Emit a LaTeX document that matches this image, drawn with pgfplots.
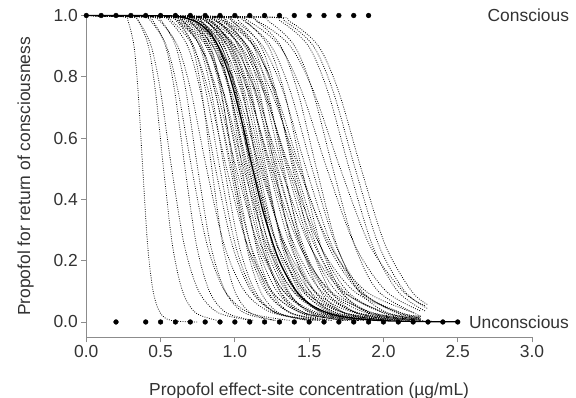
\documentclass[border=0pt]{standalone}
\usepackage{fontspec}
\setmainfont{Liberation Sans}
\usepackage{pgfplots}
\pgfplotsset{compat=1.18}
\definecolor{txt}{HTML}{333333}
\definecolor{axc}{HTML}{8C8C8C}
\pgfplotsset{ind/.style={black, line width=0.8pt, dash pattern=on 0.8pt off 1.5pt, smooth, tension=0.5, no marks}}
\begin{document}
\begin{tikzpicture}
\useasboundingbox (-86.3bp,-60.7bp) rectangle (489.7bp,337.3bp);
\begin{axis}[
  scale only axis, width=445.7bp, height=321.8bp,
  xmin=0, xmax=3, ymin=-0.05, ymax=1,
  axis x line*=bottom, axis y line*=left,
  axis line style={axc, line width=0.8pt},
  xtick={0,0.5,1,1.5,2,2.5,3}, ytick={0,0.2,0.4,0.6,0.8,1},
  tick align=outside, major tick length=5bp,
  tick style={axc, line width=0.8pt},
  /pgf/number format/assume math mode=true,
  /pgf/number format/.cd, fixed, fixed zerofill, precision=1, /pgfplots/.cd,
  tick label style={font=\fontsize{17.5}{20}\selectfont, text=txt},
  xlabel={Propofol effect-site concentration (µg/mL)},
  ylabel={Propofol for return of consciousness},
  label style={font=\fontsize{17.5}{20}\selectfont, text=txt},
  xlabel style={at={(axis description cs:0.5,-0.1793)}, anchor=base},
  ylabel style={at={(axis description cs:-0.1364,0.5)}, anchor=center},
  clip=false,
]
% individual curves
\addplot[ind] coordinates {(0,1)(0.253,0.995)(0.282,0.98)(0.321,0.9)(0.349,0.75)(0.380,0.5)(0.413,0.25)(0.450,0.1)(0.497,0.03)(0.571,0.005)(0.75,0)};
\addplot[ind] coordinates {(0,1)(0.306,0.995)(0.353,0.98)(0.418,0.9)(0.466,0.75)(0.520,0.5)(0.580,0.25)(0.648,0.1)(0.736,0.03)(0.883,0.005)};
\addplot[ind] coordinates {(0,1)(0.297,0.995)(0.354,0.98)(0.437,0.9)(0.501,0.75)(0.575,0.5)(0.660,0.25)(0.757,0.1)(0.888,0.03)(1.114,0.005)};
\addplot[ind] coordinates {(0,1)(0.392,0.995)(0.451,0.98)(0.534,0.9)(0.596,0.75)(0.665,0.5)(0.742,0.25)(0.829,0.1)(0.942,0.03)(1.129,0.005)};
\addplot[ind] coordinates {(0,1)(0.366,0.995)(0.437,0.98)(0.540,0.9)(0.619,0.75)(0.710,0.5)(0.814,0.25)(0.934,0.1)(1.096,0.03)(1.376,0.005)};
\addplot[ind] coordinates {(0,1)(0.442,0.995)(0.509,0.98)(0.602,0.9)(0.672,0.75)(0.750,0.5)(0.837,0.25)(0.935,0.1)(1.062,0.03)(1.274,0.005)};
\addplot[ind] coordinates {(0,1)(0.418,0.995)(0.498,0.98)(0.616,0.9)(0.706,0.75)(0.810,0.5)(0.929,0.25)(1.066,0.1)(1.251,0.03)(1.570,0.005)};
\addplot[ind] coordinates {(0,1)(0.563,0.995)(0.626,0.98)(0.714,0.9)(0.777,0.75)(0.845,0.5)(0.919,0.25)(1.000,0.1)(1.104,0.03)(1.270,0.005)};
\addplot[ind] coordinates {(0,1)(0.483,0.995)(0.565,0.98)(0.682,0.9)(0.770,0.75)(0.870,0.5)(0.983,0.25)(1.111,0.1)(1.280,0.03)(1.566,0.005)};
\addplot[ind] coordinates {(0,1)(0.530,0.995)(0.610,0.98)(0.723,0.9)(0.806,0.75)(0.900,0.5)(1.004,0.25)(1.121,0.1)(1.274,0.03)(1.528,0.005)};
\addplot[ind] coordinates {(0,1)(0.575,0.995)(0.653,0.98)(0.762,0.9)(0.842,0.75)(0.930,0.5)(1.028,0.25)(1.136,0.1)(1.276,0.03)(1.505,0.005)};
\addplot[ind] coordinates {(0,1)(0.488,0.995)(0.581,0.98)(0.718,0.9)(0.824,0.75)(0.945,0.5)(1.084,0.25)(1.244,0.1)(1.459,0.03)(1.831,0.005)};
\addplot[ind] coordinates {(0,1)(0.571,0.995)(0.658,0.98)(0.779,0.9)(0.869,0.75)(0.970,0.5)(1.083,0.25)(1.209,0.1)(1.374,0.03)(1.647,0.005)};
\addplot[ind] coordinates {(0,1)(0.544,0.995)(0.636,0.98)(0.768,0.9)(0.867,0.75)(0.980,0.5)(1.107,0.25)(1.251,0.1)(1.442,0.03)(1.764,0.005)};
\addplot[ind] coordinates {(0,1)(0.659,0.995)(0.734,0.98)(0.837,0.9)(0.910,0.75)(0.990,0.5)(1.077,0.25)(1.172,0.1)(1.294,0.03)(1.488,0.005)};
\addplot[ind] coordinates {(0,1)(0.618,0.995)(0.702,0.98)(0.819,0.9)(0.905,0.75)(1.000,0.5)(1.105,0.25)(1.221,0.1)(1.372,0.03)(1.618,0.005)};
\addplot[ind] coordinates {(0,1)(0.521,0.995)(0.621,0.98)(0.768,0.9)(0.881,0.75)(1.010,0.5)(1.159,0.25)(1.329,0.1)(1.560,0.03)(1.957,0.005)};
\addplot[ind] coordinates {(0,1)(0.607,0.995)(0.698,0.98)(0.827,0.9)(0.923,0.75)(1.030,0.5)(1.149,0.25)(1.283,0.1)(1.458,0.03)(1.749,0.005)};
\addplot[ind] coordinates {(0,1)(0.578,0.995)(0.675,0.98)(0.815,0.9)(0.921,0.75)(1.040,0.5)(1.175,0.25)(1.328,0.1)(1.530,0.03)(1.873,0.005)};
\addplot[ind] coordinates {(0,1)(0.699,0.995)(0.778,0.98)(0.887,0.9)(0.965,0.75)(1.050,0.5)(1.142,0.25)(1.243,0.1)(1.372,0.03)(1.578,0.005)};
\addplot[ind] coordinates {(0,1)(0.547,0.995)(0.652,0.98)(0.806,0.9)(0.924,0.75)(1.060,0.5)(1.216,0.25)(1.395,0.1)(1.637,0.03)(2.054,0.005)};
\addplot[ind] coordinates {(0,1)(0.661,0.995)(0.751,0.98)(0.876,0.9)(0.968,0.75)(1.070,0.5)(1.182,0.25)(1.306,0.1)(1.468,0.03)(1.731,0.005)};
\addplot[ind] coordinates {(0,1)(0.636,0.995)(0.732,0.98)(0.867,0.9)(0.968,0.75)(1.080,0.5)(1.205,0.25)(1.346,0.1)(1.529,0.03)(1.834,0.005)};
\addplot[ind] coordinates {(0,1)(0.605,0.995)(0.707,0.98)(0.854,0.9)(0.965,0.75)(1.090,0.5)(1.232,0.25)(1.391,0.1)(1.604,0.03)(1.963,0.005)};
\addplot[ind] coordinates {(0,1)(0.733,0.995)(0.815,0.98)(0.930,0.9)(1.011,0.75)(1.100,0.5)(1.197,0.25)(1.302,0.1)(1.438,0.03)(1.653,0.005)};
\addplot[ind] coordinates {(0,1)(0.686,0.995)(0.779,0.98)(0.909,0.9)(1.004,0.75)(1.110,0.5)(1.227,0.25)(1.355,0.1)(1.523,0.03)(1.796,0.005)};
\addplot[ind] coordinates {(0,1)(0.578,0.995)(0.689,0.98)(0.851,0.9)(0.977,0.75)(1.120,0.5)(1.285,0.25)(1.474,0.1)(1.729,0.03)(2.171,0.005)};
\addplot[ind] coordinates {(0,1)(0.666,0.995)(0.766,0.98)(0.907,0.9)(1.012,0.75)(1.130,0.5)(1.261,0.25)(1.408,0.1)(1.600,0.03)(1.919,0.005)};
\addplot[ind] coordinates {(0,1)(0.633,0.995)(0.740,0.98)(0.893,0.9)(1.009,0.75)(1.140,0.5)(1.288,0.25)(1.455,0.1)(1.677,0.03)(2.053,0.005)};
\addplot[ind] coordinates {(0,1)(0.766,0.995)(0.852,0.98)(0.972,0.9)(1.057,0.75)(1.150,0.5)(1.251,0.25)(1.362,0.1)(1.503,0.03)(1.728,0.005)};
\addplot[ind] coordinates {(0,1)(0.717,0.995)(0.814,0.98)(0.950,0.9)(1.050,0.75)(1.160,0.5)(1.282,0.25)(1.416,0.1)(1.591,0.03)(1.877,0.005)};
\addplot[ind] coordinates {(0,1)(0.604,0.995)(0.720,0.98)(0.889,0.9)(1.020,0.75)(1.170,0.5)(1.342,0.25)(1.540,0.1)(1.806,0.03)(2.267,0.005)};
\addplot[ind] coordinates {(0,1)(0.655,0.995)(0.766,0.98)(0.924,0.9)(1.044,0.75)(1.180,0.5)(1.333,0.25)(1.506,0.1)(1.736,0.03)(2.125,0.005)};
\addplot[ind] coordinates {(0,1)(0.701,0.995)(0.807,0.98)(0.956,0.9)(1.066,0.75)(1.190,0.5)(1.328,0.25)(1.483,0.1)(1.685,0.03)(2.021,0.005)};
\addplot[ind] coordinates {(0,1)(0.742,0.995)(0.842,0.98)(0.983,0.9)(1.086,0.75)(1.200,0.5)(1.326,0.25)(1.465,0.1)(1.646,0.03)(1.942,0.005)};
\addplot[ind] coordinates {(0,1)(0.806,0.995)(0.897,0.98)(1.022,0.9)(1.112,0.75)(1.210,0.5)(1.316,0.25)(1.433,0.1)(1.581,0.03)(1.819,0.005)};
\addplot[ind] coordinates {(0,1)(0.724,0.995)(0.834,0.98)(0.988,0.9)(1.102,0.75)(1.230,0.5)(1.373,0.25)(1.533,0.1)(1.742,0.03)(2.089,0.005)};
\addplot[ind] coordinates {(0,1)(0.689,0.995)(0.805,0.98)(0.971,0.9)(1.098,0.75)(1.240,0.5)(1.401,0.25)(1.583,0.1)(1.825,0.03)(2.233,0.005)};
\addplot[ind] coordinates {(0,1)(0.645,0.995)(0.769,0.98)(0.950,0.9)(1.090,0.75)(1.250,0.5)(1.434,0.25)(1.645,0.1)(1.930,0.03)(2.250,0.009)};
\addplot[ind] coordinates {(0,1)(0.779,0.995)(0.885,0.98)(1.032,0.9)(1.140,0.75)(1.260,0.5)(1.392,0.25)(1.538,0.1)(1.728,0.03)(2.039,0.005)};
\addplot[ind] coordinates {(0,1)(0.846,0.995)(0.941,0.98)(1.073,0.9)(1.167,0.75)(1.270,0.5)(1.382,0.25)(1.504,0.1)(1.660,0.03)(1.909,0.005)};
\addplot[ind] coordinates {(0,1)(0.711,0.995)(0.831,0.98)(1.003,0.9)(1.133,0.75)(1.280,0.5)(1.446,0.25)(1.634,0.1)(1.883,0.03)(2.250,0.006)};
\addplot[ind] coordinates {(0,1)(0.760,0.995)(0.875,0.98)(1.036,0.9)(1.156,0.75)(1.290,0.5)(1.440,0.25)(1.607,0.1)(1.827,0.03)(2.190,0.005)};
\addplot[ind] coordinates {(0,1)(0.676,0.995)(0.806,0.98)(0.996,0.9)(1.142,0.75)(1.310,0.5)(1.503,0.25)(1.724,0.1)(2.023,0.03)(2.250,0.013)};
\addplot[ind] coordinates {(0,1)(0.816,0.995)(0.927,0.98)(1.081,0.9)(1.194,0.75)(1.320,0.5)(1.459,0.25)(1.612,0.1)(1.811,0.03)(2.136,0.005)};
\addplot[ind] coordinates {(0,1)(0.886,0.995)(0.986,0.98)(1.124,0.9)(1.222,0.75)(1.330,0.5)(1.447,0.25)(1.575,0.1)(1.738,0.03)(1.999,0.005)};
\addplot[ind] coordinates {(0,1)(0.795,0.995)(0.915,0.98)(1.084,0.9)(1.210,0.75)(1.350,0.5)(1.507,0.25)(1.682,0.1)(1.912,0.03)(2.250,0.006)};
\addplot[ind] coordinates {(0,1)(0.755,0.995)(0.883,0.98)(1.065,0.9)(1.204,0.75)(1.360,0.5)(1.537,0.25)(1.736,0.1)(2.001,0.03)(2.250,0.011)};
\addplot[ind] coordinates {(0,1)(0.707,0.995)(0.843,0.98)(1.041,0.9)(1.195,0.75)(1.370,0.5)(1.572,0.25)(1.803,0.1)(2.115,0.03)(2.250,0.019)};
\addplot[ind] coordinates {(0,1)(0.926,0.995)(1.030,0.98)(1.175,0.9)(1.277,0.75)(1.390,0.5)(1.512,0.25)(1.646,0.1)(1.817,0.03)(2.089,0.005)};
\addplot[ind] coordinates {(0,1)(0.865,0.995)(0.983,0.98)(1.147,0.9)(1.267,0.75)(1.400,0.5)(1.547,0.25)(1.709,0.1)(1.920,0.03)(2.250,0.005)};
\addplot[ind] coordinates {(0,1)(0.830,0.995)(0.956,0.98)(1.132,0.9)(1.263,0.75)(1.410,0.5)(1.574,0.25)(1.757,0.1)(1.997,0.03)(2.250,0.009)};
\addplot[ind] coordinates {(0,1)(0.738,0.995)(0.879,0.98)(1.087,0.9)(1.247,0.75)(1.430,0.5)(1.640,0.25)(1.882,0.1)(2.208,0.03)};
\addplot[ind] coordinates {(0,1)(0.800,0.995)(0.935,0.98)(1.128,0.9)(1.275,0.75)(1.440,0.5)(1.627,0.25)(1.838,0.1)(2.119,0.03)(2.250,0.018)};
\addplot[ind] coordinates {(0,1)(0.966,0.995)(1.074,0.98)(1.225,0.9)(1.333,0.75)(1.450,0.5)(1.578,0.25)(1.717,0.1)(1.895,0.03)(2.179,0.005)};
\addplot[ind] coordinates {(0,1)(0.872,0.995)(1.003,0.98)(1.188,0.9)(1.326,0.75)(1.480,0.5)(1.652,0.25)(1.844,0.1)(2.096,0.03)(2.250,0.015)};
\addplot[ind] coordinates {(0,1)(0.939,0.995)(1.067,0.98)(1.245,0.9)(1.375,0.75)(1.520,0.5)(1.680,0.25)(1.856,0.1)(2.085,0.03)(2.250,0.013)};
\addplot[ind] coordinates {(0,1)(1.032,0.995)(1.149,0.98)(1.310,0.9)(1.424,0.75)(1.550,0.5)(1.686,0.25)(1.835,0.1)(2.026,0.03)(2.250,0.008)};
\addplot[ind] coordinates {(0,1)(0.954,0.995)(1.098,0.98)(1.301,0.9)(1.452,0.75)(1.620,0.5)(1.808,0.25)(2.019,0.1)(2.250,0.036)};
\addplot[ind] coordinates {(0,1)(1.105,0.995)(1.230,0.98)(1.403,0.9)(1.526,0.75)(1.660,0.5)(1.806,0.25)(1.965,0.1)(2.250,0.019)};
\addplot[ind] coordinates {(0,1)(1.007,0.995)(1.159,0.98)(1.373,0.9)(1.532,0.75)(1.710,0.5)(1.908,0.25)(2.131,0.1)(2.280,0.053)};
\addplot[ind] coordinates {(0,1)(1.179,0.995)(1.312,0.98)(1.496,0.9)(1.627,0.75)(1.770,0.5)(1.926,0.25)(2.096,0.1)(2.280,0.036)};
\addplot[ind] coordinates {(0,1)(1.205,0.995)(1.341,0.98)(1.529,0.9)(1.663,0.75)(1.810,0.5)(1.969,0.25)(2.143,0.1)(2.300,0.043)};
\addplot[ind] coordinates {(0,1)(1.232,0.995)(1.371,0.98)(1.563,0.9)(1.700,0.75)(1.850,0.5)(2.013,0.25)(2.190,0.1)(2.300,0.056)};
% population curve
\addplot[black, line width=1.3pt, smooth, tension=0.5, no marks] coordinates {(0,1)(0.537,0.999)(0.638,0.995)(0.740,0.98)(0.819,0.95)(0.887,0.9)(0.966,0.8)(1.049,0.65)(1.120,0.5)(1.196,0.35)(1.298,0.2)(1.415,0.1)(1.532,0.05)(1.694,0.02)(1.967,0.005)(2.335,0.001)(2.5,0.0005)};
% observations
\addplot[only marks, mark=*, mark size=2.4pt, black] coordinates {(0,1)(0.1,1)(0.2,1)(0.3,1)(0.4,1)(0.5,1)(0.6,1)(0.7,1)(0.8,1)(0.9,1)(1.0,1)(1.1,1)(1.2,1)(1.3,1)(1.4,1)(1.5,1)(1.6,1)(1.7,1)(1.8,1)(1.9,1)};
\addplot[only marks, mark=*, mark size=2.4pt, black] coordinates {(0.2,0)(0.4,0)(0.5,0)(0.6,0)(0.7,0)(0.8,0)(0.9,0)(1.0,0)(1.1,0)(1.2,0)(1.3,0)(1.4,0)(1.5,0)(1.6,0)(1.7,0)(1.8,0)(1.9,0)(2.0,0)(2.1,0)(2.2,0)(2.3,0)(2.4,0)(2.5,0)};
\node[anchor=west, text=txt, font=\fontsize{17.5}{20}\selectfont, inner sep=0pt] at (axis cs:2.70,1) {Conscious};
\node[anchor=west, text=txt, font=\fontsize{17.5}{20}\selectfont, inner sep=0pt] at (axis cs:2.575,0) {Unconscious};
\end{axis}
\end{tikzpicture}
\end{document}
